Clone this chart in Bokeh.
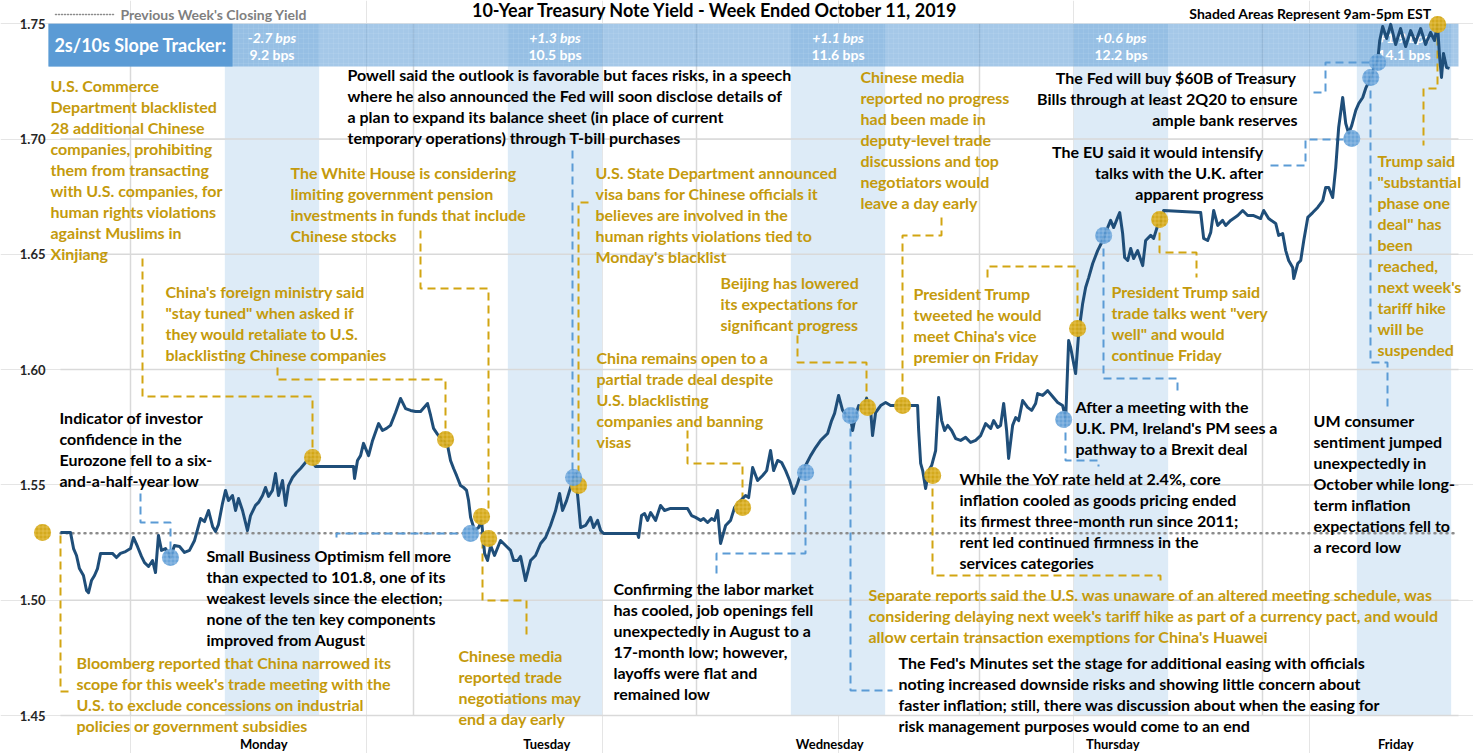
from bokeh.plotting import figure
from bokeh.models import Range1d, ColumnDataSource
from bokeh.core.properties import value
from bokeh.embed import file_html
from bokeh.resources import INLINE

# ---------------- data (hours since Monday 00:00, yield in %) ----------------
hours = [-5.94, -5.09, -4.83, -4.58, -4.33, -3.99, -3.73, -3.56, -3.31, -3.05, -2.80, -2.54, -2.04, -1.53, -1.19,
         -0.85, -0.42, 0.00, 0.25, 0.59, 0.93, 1.19, 1.53, 1.87, 2.12, 2.37, 2.63, 2.97, 3.39, 3.73, 4.16, 4.58,
         5.00, 5.43, 5.94, 6.28, 6.62, 6.96, 7.21, 7.46, 7.80, 8.06, 8.31, 8.65, 8.91, 9.16, 9.50, 9.92, 10.18,
         10.60, 10.86, 11.20, 11.45, 11.71, 12.04, 12.30, 12.55, 12.89, 13.15, 13.40, 13.74, 14.08, 14.42, 14.84,
         15.27, 15.69, 18.91, 19.00, 19.25, 19.51, 19.76, 20.19, 20.53, 21.04, 21.37, 21.71, 22.05, 22.48, 22.90,
         23.33, 23.75, 24.17, 24.60, 25.19, 25.45, 25.70, 26.04, 26.46, 26.89, 27.14, 27.40, 27.65, 27.99, 28.24,
         28.50, 28.67, 28.84, 29.18, 29.52, 29.77, 30.03, 30.28, 30.54, 30.87, 31.38, 31.81, 32.23, 32.49, 32.83,
         33.08, 33.50, 33.93, 34.35, 34.78, 35.20, 35.62, 36.05, 36.39, 36.64, 36.98, 37.32, 37.74, 38.00, 38.17,
         38.59, 39.02, 39.27, 39.61, 39.87, 40.12, 43.00, 43.09, 43.34, 43.60, 43.85, 44.11, 44.53, 44.95, 45.29,
         45.80, 47.24, 47.58, 47.92, 48.35, 48.60, 48.94, 49.28, 49.53, 49.79, 50.04, 50.47, 50.89, 51.23, 51.74,
         52.16, 52.42, 52.76, 53.18, 53.61, 53.95, 54.28, 54.54, 54.88, 55.22, 55.56, 55.90, 56.24, 56.57, 56.91,
         57.25, 57.68, 58.10, 58.53, 59.12, 59.46, 59.71, 60.05, 60.39, 60.73, 61.07, 61.24, 61.49, 61.75, 62.09,
         62.43, 62.77, 62.93, 63.19, 63.62, 64.04, 64.46, 66.75, 66.84, 67.01, 67.18, 67.43, 67.69, 67.94, 68.28,
         68.53, 68.79, 69.04, 69.30, 69.64, 69.98, 70.40, 70.82, 71.25, 71.67, 72.10, 72.52, 72.95, 73.20, 73.54,
         73.79, 74.05, 74.30, 74.47, 74.81, 75.07, 75.32, 75.66, 76.08, 76.42, 76.76, 76.93, 77.36, 77.78, 78.20,
         78.63, 79.05, 79.31, 79.56, 79.73, 80.15, 80.41, 80.75, 81.00, 81.26, 81.60, 82.02, 82.45, 82.87, 83.12,
         83.38, 83.72, 83.89, 84.14, 84.31, 84.57, 84.82, 85.07, 85.41, 85.84, 86.09, 86.52, 86.77, 87.11, 87.36,
         87.62, 90.76, 91.01, 91.35, 91.61, 91.86, 92.20, 92.62, 92.88, 93.30, 93.90, 94.32, 94.74, 95.25, 95.84,
         96.10, 96.52, 97.12, 97.37, 97.71, 97.97, 98.22, 98.56, 98.65, 98.99, 99.24, 99.50, 99.84, 100.26, 100.68,
         101.11, 101.36, 101.61, 101.95, 102.21, 102.46, 102.80, 103.06, 103.31, 103.57, 103.91, 104.16, 104.50,
         104.75, 105.18, 105.52, 105.77, 105.94, 106.19, 106.53, 106.87, 107.29, 107.71, 108.14, 108.56, 108.98,
         109.41, 109.83, 110.25, 110.59, 110.84, 111.01, 111.18, 111.35, 111.61, 111.86]
yields = [1.5294, 1.5294, 1.5224, 1.5194, 1.5137, 1.5107, 1.5042, 1.5033, 1.5085, 1.5107, 1.5137, 1.5203, 1.5203,
          1.5203, 1.5185, 1.5203, 1.5211, 1.5224, 1.5272, 1.5233, 1.5190, 1.5163, 1.5146, 1.5172, 1.5120, 1.5281,
          1.5216, 1.5224, 1.5185, 1.5237, 1.5233, 1.5207, 1.5216, 1.5259, 1.5354, 1.5341, 1.5389, 1.5320, 1.5298,
          1.5328, 1.5419, 1.5476, 1.5432, 1.5454, 1.5389, 1.5441, 1.5389, 1.5302, 1.5367, 1.5411, 1.5424, 1.5454,
          1.5489, 1.5450, 1.5476, 1.5549, 1.5454, 1.5519, 1.5411, 1.5497, 1.5532, 1.5554, 1.5571, 1.5597, 1.5615,
          1.5580, 1.5580, 1.5528, 1.5606, 1.5627, 1.5680, 1.5627, 1.5693, 1.5766, 1.5736, 1.5745, 1.5758, 1.5814,
          1.5875, 1.5831, 1.5823, 1.5818, 1.5818, 1.5853, 1.5801, 1.5745, 1.5719, 1.5693, 1.5671, 1.5606, 1.5571,
          1.5541, 1.5497, 1.5489, 1.5476, 1.5432, 1.5359, 1.5302, 1.5315, 1.5346, 1.5203, 1.5172, 1.5237, 1.5194,
          1.5259, 1.5237, 1.5216, 1.5172, 1.5172, 1.5190, 1.5085, 1.5172, 1.5194, 1.5246, 1.5272, 1.5324, 1.5389,
          1.5463, 1.5389, 1.5432, 1.5489, 1.5549, 1.5411, 1.5315, 1.5324, 1.5359, 1.5315, 1.5346, 1.5302, 1.5289,
          1.5289, 1.5272, 1.5367, 1.5376, 1.5346, 1.5380, 1.5346, 1.5411, 1.5389, 1.5398, 1.5398, 1.5367, 1.5359,
          1.5346, 1.5354, 1.5337, 1.5354, 1.5346, 1.5389, 1.5246, 1.5324, 1.5346, 1.5402, 1.5432, 1.5454, 1.5445,
          1.5575, 1.5519, 1.5541, 1.5562, 1.5649, 1.5562, 1.5606, 1.5597, 1.5562, 1.5519, 1.5463, 1.5506, 1.5562,
          1.5584, 1.5627, 1.5662, 1.5693, 1.5723, 1.5779, 1.5810, 1.5888, 1.5823, 1.5801, 1.5788, 1.5736, 1.5801,
          1.5844, 1.5831, 1.5875, 1.5823, 1.5714, 1.5814, 1.5844, 1.5857, 1.5844, 1.5844, 1.5736, 1.5593, 1.5562,
          1.5484, 1.5562, 1.5584, 1.5649, 1.5879, 1.5779, 1.5736, 1.5758, 1.5736, 1.5701, 1.5693, 1.5706, 1.5684,
          1.5693, 1.5714, 1.5766, 1.5745, 1.5779, 1.5749, 1.5758, 1.5853, 1.5736, 1.5615, 1.5758, 1.5792, 1.5779,
          1.5866, 1.5836, 1.5823, 1.5853, 1.5896, 1.5888, 1.5909, 1.5883, 1.5857, 1.5844, 1.5788, 1.6126, 1.6096,
          1.5983, 1.6157, 1.6287, 1.6356, 1.6399, 1.6460, 1.6516, 1.6560, 1.6616, 1.6647, 1.6616, 1.6660, 1.6681,
          1.6590, 1.6486, 1.6473, 1.6525, 1.6482, 1.6516, 1.6451, 1.6560, 1.6582, 1.6569, 1.6625, 1.6638, 1.6690,
          1.6681, 1.6569, 1.6560, 1.6595, 1.6690, 1.6625, 1.6647, 1.6625, 1.6647, 1.6668, 1.6690, 1.6668, 1.6668,
          1.6655, 1.6690, 1.6655, 1.6634, 1.6582, 1.6590, 1.6516, 1.6473, 1.6443, 1.6395, 1.6460, 1.6473, 1.6560,
          1.6660, 1.6681, 1.6703, 1.6733, 1.6790, 1.6790, 1.6746, 1.6876, 1.7050, 1.7180, 1.7067, 1.7024, 1.7059,
          1.7124, 1.7154, 1.7180, 1.7219, 1.7267, 1.7319, 1.7340, 1.7427, 1.7488, 1.7436, 1.7497, 1.7410, 1.7479,
          1.7401, 1.7470, 1.7418, 1.7479, 1.7410, 1.7462, 1.7427, 1.7497, 1.7362, 1.7267, 1.7371, 1.7310, 1.7306]

prev_close = 1.529

# news events (gold = trade / politics, blue = data / central bank)
gold_hours = [-7.46, 15.44, 26.72, 29.77, 30.37, 38.00, 51.91, 62.51, 65.48, 68.03, 80.32, 87.28, 110.86]
gold_yields = [1.5294, 1.5619, 1.5697, 1.5363, 1.5268, 1.5497, 1.5402, 1.5836, 1.5844, 1.5541, 1.6178, 1.6651, 1.7497]
blue_hours = [3.39, 28.84, 37.58, 57.25, 61.07, 79.14, 82.53, 103.57, 105.18, 105.77]
blue_yields = [1.5185, 1.5289, 1.5532, 1.5554, 1.5801, 1.5784, 1.6582, 1.7002, 1.7267, 1.7332]

y_ticks = [1.45, 1.50, 1.55, 1.60, 1.65, 1.70, 1.75]
y_tick_labels = ["1.45", "1.50", "1.55", "1.60", "1.65", "1.70", "1.75"]
days = ["Monday", "Tuesday", "Wednesday", "Thursday", "Friday"]
day_starts = [0, 24, 48, 72, 96]
session = (8, 16)   # shaded 9am-5pm EST window within each day column
slope_change = [-2.7, 1.3, 1.1, 0.6, 1.9]
slope_level = [9.2, 10.5, 11.6, 12.2, 14.1]

# ---------------- layout helpers (screen px -> data) ----------------
W, H = 1473, 753
PXH = 283.0 / 24.0
def X(px):
    return (px - 130) / PXH
def Y(py):
    return 1.45 + (715 - py) / 2306.0

FONT = value("Lato")
GOLD_TXT = "#C49A0C"
GOLD_DOT = "#D2A512"
BLUE_DOT = "#5B9BD5"
LINE = "#1F4E79"

p = figure(width=W, height=H, x_range=Range1d(X(0), X(W)), y_range=Range1d(Y(H), Y(0)),
           output_backend="svg", toolbar_location=None, min_border=0,
           x_axis_location=None, y_axis_location=None)
p.outline_line_color = None
p.background_fill_color = "white"
p.border_fill_color = "white"

# session shading
p.quad(left=[d + session[0] for d in day_starts], right=[d + session[1] for d in day_starts],
       bottom=y_ticks[0], top=y_ticks[-1], fill_color="#DDEBF7", line_color=None)

# grid
for t in y_ticks[:-1]:
    p.segment(x0=X(60), x1=X(1458), y0=t, y1=t, line_color="#D9D9D9", line_width=1.5)
for d in day_starts:
    p.segment(x0=d, x1=d, y0=y_ticks[0], y1=y_ticks[-1], line_color="#D9D9D9", line_width=1.5)

# slope tracker band
p.quad(left=X(48), right=X(1458), bottom=Y(66), top=y_ticks[-1], fill_color="#5B9BD5", fill_alpha=0.55,
       line_color=None, hatch_pattern="+", hatch_color="white", hatch_alpha=0.12, hatch_scale=5, hatch_weight=0.6)
p.quad(left=X(48), right=X(232), bottom=Y(66), top=y_ticks[-1], fill_color="#5B9BD5", line_color=None)
p.text(x=[X(140)], y=[Y(44)], text=["2s/10s Slope Tracker:"], text_color="white", text_font=FONT,
       text_font_style="bold", text_font_size="18px", text_align="center", text_baseline="middle")
mid = [d + (session[0] + session[1]) / 2 for d in day_starts]
p.text(x=mid, y=[Y(37)] * 5, text=[f"{c:+.1f} bps" for c in slope_change], text_color="white", text_font=FONT,
       text_font_style="bold italic", text_font_size="14px", text_align="center", text_baseline="middle")
p.text(x=mid, y=[Y(54)] * 5, text=[f"{v:.1f} bps" for v in slope_level], text_color="white", text_font=FONT,
       text_font_style="bold", text_font_size="14px", text_align="center", text_baseline="middle")

# previous close dotted line + legend
p.segment(x0=X(60), x1=X(1458), y0=prev_close, y1=prev_close, line_color="#8C8C8C", line_width=2.5,
          line_dash="1 5", line_cap="round")
p.segment(x0=X(55), x1=X(113), y0=Y(14), y1=Y(14), line_color="#8C8C8C", line_width=1.5,
          line_dash="1 2", line_cap="round")
p.text(x=[X(120)], y=[Y(14)], text=["Previous Week's Closing Yield"], text_color="#7F7F7F", text_font=FONT,
       text_font_style="bold", text_font_size="14px", text_baseline="middle")

# titles
p.text(x=[X(715)], y=[Y(9)], text=["10-Year Treasury Note Yield - Week Ended October 11, 2019"], text_color="black",
       text_font=FONT, text_font_style="bold", text_font_size="18px", text_align="center", text_baseline="middle")
p.text(x=[X(1431)], y=[Y(13)], text=["Shaded Areas Represent 9am-5pm EST"], text_color="black",
       text_font=FONT, text_font_style="bold", text_font_size="14px", text_align="right", text_baseline="middle")

# axis labels
p.text(x=[X(45)] * len(y_ticks), y=y_ticks, text=y_tick_labels, text_color="#262626", text_font=FONT,
       text_font_style="bold", text_font_size="13px", text_align="right", text_baseline="middle")
p.text(x=[d + 11.3 for d in day_starts], y=[Y(743)] * 5, text=days, text_color="black", text_font=FONT,
       text_font_style="bold", text_font_size="13px", text_align="center", text_baseline="middle")

# connectors (screen layout)
gold_conn = [
    [(142, 258), (142, 396), (312, 396), (312, 457)],
    [(277, 367), (277, 379), (445, 379), (445, 439)],
    [(420, 230), (420, 288), (488, 288), (488, 512)],
    [(588, 202), (578, 202), (578, 485)],
    [(687, 430), (687, 463), (742, 463), (742, 507)],
    [(797, 335), (797, 362), (866, 362), (866, 407)],
    [(941, 217), (941, 235), (902, 235), (902, 405)],
    [(987, 277), (987, 266), (1077, 266), (1077, 328)],
    [(1159, 219), (1159, 252), (1196, 252), (1196, 277)],
    [(932, 475), (932, 575), (1160, 575), (1160, 581)],
    [(60, 535), (60, 691), (70, 691)],
    [(482, 540), (482, 600), (526, 600), (526, 638)],
    [(1437, 24), (1437, 88), (1423, 88), (1423, 145)],
]
blue_conn = [
    [(572, 150), (572, 477)],
    [(1313, 92), (1325, 92), (1325, 62), (1377, 62)],
    [(1270, 165), (1305, 165), (1305, 139), (1351, 139)],
    [(1103, 235), (1103, 378), (1177, 378), (1177, 392)],
    [(1065, 419), (1065, 460), (1098, 460), (1098, 466)],
    [(850, 415), (850, 690), (892, 690)],
    [(805, 472), (805, 553), (716, 553), (716, 574)],
    [(470, 533), (336, 533), (336, 541)],
    [(140, 493), (140, 522), (170, 522), (170, 557)],
    [(1370, 77), (1370, 362), (1387, 362), (1387, 406)],
]
for conns, col in ((gold_conn, GOLD_DOT), (blue_conn, BLUE_DOT)):
    p.multi_line(xs=[[X(a) for a, b in c] for c in conns], ys=[[Y(b) for a, b in c] for c in conns],
                 line_color=col, line_width=2, line_dash="8 5")

# yield line
p.line(hours, yields, line_color=LINE, line_width=3, line_join="round")

# event dots
p.scatter(gold_hours, gold_yields, size=17, fill_color=GOLD_DOT, line_color=None, fill_alpha=0.95,
          hatch_pattern="+", hatch_color="#F3D77A", hatch_alpha=0.5, hatch_scale=4, hatch_weight=0.8)
p.scatter(blue_hours, blue_yields, size=17, fill_color=BLUE_DOT, line_color=None, fill_alpha=0.9,
          hatch_pattern="+", hatch_color="#BDD7EE", hatch_alpha=0.5, hatch_scale=4, hatch_weight=0.8)

# annotation texts: (lines, color, px, first-line py, align)
notes = [
    (["U.S. Commerce", "Department blacklisted", "28 additional Chinese", "companies, prohibiting",
      "them from transacting", "with U.S. companies, for", "human rights violations", "against Muslims in",
      "Xinjiang"], GOLD_TXT, 50, 85, "left"),
    (["China's foreign ministry said", "\"stay tuned\" when asked if", "they would retaliate to U.S.",
      "blacklisting Chinese companies"], GOLD_TXT, 165, 291, "left"),
    (["The White House is considering", "limiting government pension", "investments in funds that include",
      "Chinese stocks"], GOLD_TXT, 290, 172, "left"),
    (["Powell said the outlook is favorable but faces risks, in a speech",
      "where he also announced the Fed will soon disclose details of",
      "a plan to expand its balance sheet (in place of current",
      "temporary operations) through T-bill purchases"], "black", 347, 74, "left"),
    (["U.S. State Department announced", "visa bans for Chinese officials it", "believes are involved in the",
      "human rights violations tied to", "Monday's blacklist"], GOLD_TXT, 595, 172, "left"),
    (["China remains open to a", "partial trade deal despite", "U.S. blacklisting", "companies and banning",
      "visas"], GOLD_TXT, 596, 357, "left"),
    (["Beijing has lowered", "its expectations for", "significant progress"], GOLD_TXT, 720, 282, "left"),
    (["Chinese media", "reported no progress", "had been made in", "deputy-level trade", "discussions and top",
      "negotiators would", "leave a day early"], GOLD_TXT, 860, 76, "left"),
    (["President Trump", "tweeted he would", "meet China's vice", "premier on Friday"], GOLD_TXT, 913, 293, "left"),
    (["President Trump said", "trade talks went \"very", "well\" and would", "continue Friday"],
     GOLD_TXT, 1111, 291, "left"),
    (["The Fed will buy $60B of Treasury", "Bills through at least 2Q20 to ensure", "ample bank reserves"],
     "black", 1297, 77, "right"),
    (["The EU said it would intensify", "talks with the U.K. after", "apparent progress"],
     "black", 1263, 151, "right"),
    (["After a meeting with the", "U.K. PM, Ireland's PM sees a", "pathway to a Brexit deal"],
     "black", 1075, 406, "left"),
    (["While the YoY rate held at 2.4%, core", "inflation cooled as goods pricing ended",
      "its firmest three-month run since 2011;", "rent led continued firmness in the",
      "services categories"], "black", 959, 478, "left"),
    (["Separate reports said the U.S. was unaware of an altered meeting schedule, was",
      "considering delaying next week's tariff hike as part of a currency pact, and would",
      "allow certain transaction exemptions for China's Huawei"], GOLD_TXT, 868, 594, "left"),
    (["The Fed's Minutes set the stage for additional easing with officials",
      "noting increased downside risks and showing little concern about",
      "faster inflation; still, there was discussion about when the easing for",
      "risk management purposes would come to an end"], "black", 898, 662, "left"),
    (["Confirming the labor market", "has cooled, job openings fell", "unexpectedly in August to a",
      "17-month low; however,", "layoffs were flat and", "remained low"], "black", 613, 588, "left"),
    (["Small Business Optimism fell more", "than expected to 101.8, one of its",
      "weakest levels since the election;", "none of the ten key components", "improved from August"],
     "black", 206, 555, "left"),
    (["Indicator of investor", "confidence in the", "Eurozone fell to a six-", "and-a-half-year low"],
     "black", 59, 417, "left"),
    (["Bloomberg reported that China narrowed its", "scope for this week's trade meeting with the",
      "U.S. to exclude concessions on industrial", "policies or government subsidies"], GOLD_TXT, 76, 662, "left"),
    (["Chinese media", "reported trade", "negotiations may", "end a day early"], GOLD_TXT, 458, 655, "left"),
    (["Trump said", "\"substantial", "phase one", "deal\" has", "been", "reached,", "next week's",
      "tariff hike", "will be", "suspended"], GOLD_TXT, 1377, 160, "left"),
    (["UM consumer", "sentiment jumped", "unexpectedly in", "October while long-", "term inflation",
      "expectations fell to", "a record low"], "black", 1313, 420, "left"),
]
LH = 21
for align in ("left", "right"):
    xs, ys, ts, cs = [], [], [], []
    for lines, col, px, py, al in notes:
        if al != align:
            continue
        for i, ln in enumerate(lines):
            xs.append(X(px)); ys.append(Y(py + i * LH)); ts.append(ln); cs.append(col)
    src = ColumnDataSource(dict(x=xs, y=ys, text=ts, color=cs))
    p.text(x="x", y="y", text="text", text_color="color", source=src, text_font=FONT,
           text_font_style="bold", text_font_size="16px", text_align=align, text_baseline="middle")

open("out.html", "w").write(file_html(p, INLINE))
